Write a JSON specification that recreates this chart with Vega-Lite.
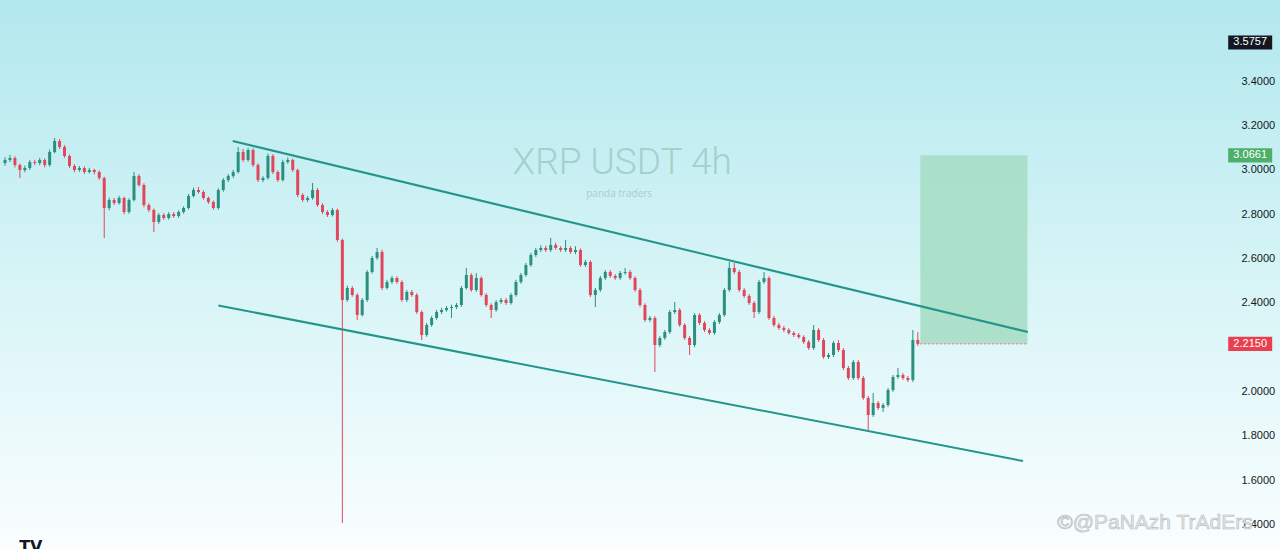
{
"$schema": "https://vega.github.io/schema/vega-lite/v6.json",
"width": 1280, "height": 549,
"autosize": {"type": "none"},
"padding": 0,
"config": {
 "view": {"stroke": null, "fill": {"gradient": "linear", "x1": 0, "y1": 0, "x2": 0, "y2": 1, "stops": [{"offset": 0, "color": "#b2e8ee"}, {"offset": 0.5, "color": "#d6f4f6"}, {"offset": 1, "color": "#fafeff"}]}},
 "axis": {"labelFont": "Liberation Sans", "labelFontSize": 11, "labelColor": "#131722"}
},
"datasets": {
 "candles": [
{"t":0,"o":3.0316,"h":3.058,"l":3.020,"c":3.0451},
{"t":1,"o":3.0451,"h":3.068,"l":3.036,"c":3.0542},
{"t":2,"o":3.0542,"h":3.062,"l":3.012,"c":3.0226},
{"t":3,"o":3.0226,"h":3.030,"l":2.964,"c":3.0000},
{"t":4,"o":3.0000,"h":3.020,"l":2.990,"c":3.0090},
{"t":5,"o":3.0090,"h":3.045,"l":3.000,"c":3.0361},
{"t":6,"o":3.0361,"h":3.046,"l":3.022,"c":3.0316},
{"t":7,"o":3.0316,"h":3.055,"l":3.022,"c":3.0451},
{"t":8,"o":3.0451,"h":3.052,"l":3.012,"c":3.0226},
{"t":9,"o":3.0226,"h":3.092,"l":3.015,"c":3.0813},
{"t":10,"o":3.0813,"h":3.1445,"l":3.075,"c":3.1309},
{"t":11,"o":3.1309,"h":3.140,"l":3.095,"c":3.1038},
{"t":12,"o":3.1038,"h":3.112,"l":3.055,"c":3.0632},
{"t":13,"o":3.0632,"h":3.070,"l":3.008,"c":3.0181},
{"t":14,"o":3.0181,"h":3.026,"l":2.990,"c":3.0000},
{"t":15,"o":3.0000,"h":3.018,"l":2.992,"c":3.0090},
{"t":16,"o":3.0090,"h":3.016,"l":2.982,"c":2.9910},
{"t":17,"o":2.9910,"h":3.010,"l":2.984,"c":3.0000},
{"t":18,"o":3.0000,"h":3.006,"l":2.980,"c":2.9910},
{"t":19,"o":2.9910,"h":2.998,"l":2.955,"c":2.9639},
{"t":20,"o":2.9639,"h":2.970,"l":2.693,"c":2.8284},
{"t":21,"o":2.8284,"h":2.875,"l":2.818,"c":2.8646},
{"t":22,"o":2.8646,"h":2.874,"l":2.842,"c":2.8510},
{"t":23,"o":2.8510,"h":2.884,"l":2.843,"c":2.8736},
{"t":24,"o":2.8736,"h":2.880,"l":2.800,"c":2.8104},
{"t":25,"o":2.8104,"h":2.872,"l":2.803,"c":2.8646},
{"t":26,"o":2.8646,"h":2.991,"l":2.858,"c":2.9729},
{"t":27,"o":2.9729,"h":2.982,"l":2.925,"c":2.9323},
{"t":28,"o":2.9323,"h":2.940,"l":2.832,"c":2.8420},
{"t":29,"o":2.8420,"h":2.850,"l":2.810,"c":2.8194},
{"t":30,"o":2.8194,"h":2.826,"l":2.720,"c":2.7652},
{"t":31,"o":2.7652,"h":2.806,"l":2.757,"c":2.7968},
{"t":32,"o":2.7968,"h":2.805,"l":2.775,"c":2.7833},
{"t":33,"o":2.7833,"h":2.810,"l":2.776,"c":2.8014},
{"t":34,"o":2.8014,"h":2.810,"l":2.784,"c":2.7923},
{"t":35,"o":2.7923,"h":2.818,"l":2.784,"c":2.8104},
{"t":36,"o":2.8104,"h":2.836,"l":2.803,"c":2.8284},
{"t":37,"o":2.8284,"h":2.892,"l":2.821,"c":2.8826},
{"t":38,"o":2.8826,"h":2.920,"l":2.876,"c":2.9097},
{"t":39,"o":2.9097,"h":2.9233,"l":2.893,"c":2.9007},
{"t":40,"o":2.9007,"h":2.908,"l":2.866,"c":2.8736},
{"t":41,"o":2.8736,"h":2.880,"l":2.847,"c":2.8555},
{"t":42,"o":2.8555,"h":2.862,"l":2.820,"c":2.8284},
{"t":43,"o":2.8284,"h":2.918,"l":2.821,"c":2.9097},
{"t":44,"o":2.9097,"h":2.964,"l":2.902,"c":2.9549},
{"t":45,"o":2.9549,"h":2.982,"l":2.946,"c":2.9729},
{"t":46,"o":2.9729,"h":3.000,"l":2.964,"c":2.9910},
{"t":47,"o":2.9910,"h":3.1038,"l":2.984,"c":3.0813},
{"t":48,"o":3.0813,"h":3.095,"l":3.037,"c":3.0451},
{"t":49,"o":3.0451,"h":3.100,"l":3.038,"c":3.0903},
{"t":50,"o":3.0903,"h":3.098,"l":3.014,"c":3.0226},
{"t":51,"o":3.0226,"h":3.030,"l":2.946,"c":2.9549},
{"t":52,"o":2.9549,"h":2.972,"l":2.945,"c":2.9639},
{"t":53,"o":2.9639,"h":3.074,"l":2.956,"c":3.0632},
{"t":54,"o":3.0632,"h":3.072,"l":2.982,"c":2.9910},
{"t":55,"o":2.9910,"h":2.998,"l":2.946,"c":2.9549},
{"t":56,"o":2.9549,"h":3.046,"l":2.948,"c":3.0361},
{"t":57,"o":3.0361,"h":3.056,"l":3.028,"c":3.0451},
{"t":58,"o":3.0451,"h":3.052,"l":2.992,"c":3.0000},
{"t":59,"o":3.0000,"h":3.006,"l":2.878,"c":2.8871},
{"t":60,"o":2.8871,"h":2.895,"l":2.856,"c":2.8646},
{"t":61,"o":2.8646,"h":2.882,"l":2.856,"c":2.8736},
{"t":62,"o":2.8736,"h":2.9413,"l":2.866,"c":2.9097},
{"t":63,"o":2.9097,"h":2.918,"l":2.834,"c":2.8420},
{"t":64,"o":2.8420,"h":2.850,"l":2.802,"c":2.8104},
{"t":65,"o":2.8104,"h":2.818,"l":2.788,"c":2.7968},
{"t":66,"o":2.7968,"h":2.828,"l":2.790,"c":2.8194},
{"t":67,"o":2.8194,"h":2.826,"l":2.676,"c":2.6840},
{"t":68,"o":2.6840,"h":2.690,"l":1.4063,"c":2.4131},
{"t":69,"o":2.4131,"h":2.478,"l":2.405,"c":2.4673},
{"t":70,"o":2.4673,"h":2.476,"l":2.428,"c":2.4357},
{"t":71,"o":2.4357,"h":2.444,"l":2.3228,"c":2.3454},
{"t":72,"o":2.3454,"h":2.422,"l":2.338,"c":2.4131},
{"t":73,"o":2.4131,"h":2.548,"l":2.405,"c":2.5395},
{"t":74,"o":2.5395,"h":2.612,"l":2.532,"c":2.6027},
{"t":75,"o":2.6027,"h":2.6479,"l":2.595,"c":2.6298},
{"t":76,"o":2.6298,"h":2.640,"l":2.458,"c":2.4673},
{"t":77,"o":2.4673,"h":2.504,"l":2.460,"c":2.4944},
{"t":78,"o":2.4944,"h":2.522,"l":2.486,"c":2.5124},
{"t":79,"o":2.5124,"h":2.520,"l":2.486,"c":2.4944},
{"t":80,"o":2.4944,"h":2.502,"l":2.405,"c":2.4131},
{"t":81,"o":2.4131,"h":2.458,"l":2.404,"c":2.4492},
{"t":82,"o":2.4492,"h":2.458,"l":2.428,"c":2.4357},
{"t":83,"o":2.4357,"h":2.444,"l":2.350,"c":2.3589},
{"t":84,"o":2.3589,"h":2.366,"l":2.2325,"c":2.2551},
{"t":85,"o":2.2551,"h":2.310,"l":2.247,"c":2.3002},
{"t":86,"o":2.3002,"h":2.341,"l":2.292,"c":2.3318},
{"t":87,"o":2.3318,"h":2.368,"l":2.324,"c":2.3589},
{"t":88,"o":2.3589,"h":2.378,"l":2.350,"c":2.3679},
{"t":89,"o":2.3679,"h":2.386,"l":2.360,"c":2.3770},
{"t":90,"o":2.3770,"h":2.392,"l":2.3318,"c":2.3815},
{"t":91,"o":2.3815,"h":2.400,"l":2.372,"c":2.3905},
{"t":92,"o":2.3905,"h":2.476,"l":2.382,"c":2.4673},
{"t":93,"o":2.4673,"h":2.5576,"l":2.460,"c":2.5260},
{"t":94,"o":2.5260,"h":2.534,"l":2.450,"c":2.4582},
{"t":95,"o":2.4582,"h":2.5350,"l":2.450,"c":2.5124},
{"t":96,"o":2.5124,"h":2.520,"l":2.428,"c":2.4357},
{"t":97,"o":2.4357,"h":2.444,"l":2.382,"c":2.3905},
{"t":98,"o":2.3905,"h":2.398,"l":2.3318,"c":2.3679},
{"t":99,"o":2.3679,"h":2.412,"l":2.360,"c":2.4041},
{"t":100,"o":2.4041,"h":2.422,"l":2.396,"c":2.4131},
{"t":101,"o":2.4131,"h":2.422,"l":2.391,"c":2.3995},
{"t":102,"o":2.3995,"h":2.444,"l":2.392,"c":2.4357},
{"t":103,"o":2.4357,"h":2.504,"l":2.428,"c":2.4944},
{"t":104,"o":2.4944,"h":2.535,"l":2.486,"c":2.5260},
{"t":105,"o":2.5260,"h":2.580,"l":2.518,"c":2.5711},
{"t":106,"o":2.5711,"h":2.626,"l":2.563,"c":2.6163},
{"t":107,"o":2.6163,"h":2.648,"l":2.608,"c":2.6388},
{"t":108,"o":2.6388,"h":2.660,"l":2.630,"c":2.6479},
{"t":109,"o":2.6479,"h":2.658,"l":2.630,"c":2.6388},
{"t":110,"o":2.6388,"h":2.6930,"l":2.630,"c":2.6614},
{"t":111,"o":2.6614,"h":2.672,"l":2.640,"c":2.6479},
{"t":112,"o":2.6479,"h":2.656,"l":2.630,"c":2.6388},
{"t":113,"o":2.6388,"h":2.6840,"l":2.630,"c":2.6479},
{"t":114,"o":2.6479,"h":2.656,"l":2.622,"c":2.6298},
{"t":115,"o":2.6298,"h":2.656,"l":2.620,"c":2.6388},
{"t":116,"o":2.6388,"h":2.646,"l":2.563,"c":2.5711},
{"t":117,"o":2.5711,"h":2.594,"l":2.563,"c":2.5847},
{"t":118,"o":2.5847,"h":2.592,"l":2.427,"c":2.4357},
{"t":119,"o":2.4357,"h":2.467,"l":2.3815,"c":2.4582},
{"t":120,"o":2.4582,"h":2.522,"l":2.450,"c":2.5124},
{"t":121,"o":2.5124,"h":2.548,"l":2.504,"c":2.5395},
{"t":122,"o":2.5395,"h":2.548,"l":2.513,"c":2.5214},
{"t":123,"o":2.5214,"h":2.530,"l":2.504,"c":2.5124},
{"t":124,"o":2.5124,"h":2.544,"l":2.504,"c":2.5350},
{"t":125,"o":2.5350,"h":2.5576,"l":2.527,"c":2.5395},
{"t":126,"o":2.5395,"h":2.548,"l":2.504,"c":2.5124},
{"t":127,"o":2.5124,"h":2.520,"l":2.450,"c":2.4582},
{"t":128,"o":2.4582,"h":2.467,"l":2.382,"c":2.3905},
{"t":129,"o":2.3905,"h":2.398,"l":2.314,"c":2.3228},
{"t":130,"o":2.3228,"h":2.341,"l":2.314,"c":2.3318},
{"t":131,"o":2.3318,"h":2.340,"l":2.0880,"c":2.2099},
{"t":132,"o":2.2099,"h":2.250,"l":2.200,"c":2.2415},
{"t":133,"o":2.2415,"h":2.278,"l":2.233,"c":2.2686},
{"t":134,"o":2.2686,"h":2.368,"l":2.260,"c":2.3589},
{"t":135,"o":2.3589,"h":2.4041,"l":2.350,"c":2.3679},
{"t":136,"o":2.3679,"h":2.376,"l":2.292,"c":2.3002},
{"t":137,"o":2.3002,"h":2.308,"l":2.233,"c":2.2415},
{"t":138,"o":2.2415,"h":2.250,"l":2.1648,"c":2.2099},
{"t":139,"o":2.2099,"h":2.354,"l":2.200,"c":2.3454},
{"t":140,"o":2.3454,"h":2.354,"l":2.300,"c":2.3093},
{"t":141,"o":2.3093,"h":2.318,"l":2.268,"c":2.2777},
{"t":142,"o":2.2777,"h":2.286,"l":2.256,"c":2.2641},
{"t":143,"o":2.2641,"h":2.322,"l":2.256,"c":2.3138},
{"t":144,"o":2.3138,"h":2.354,"l":2.305,"c":2.3454},
{"t":145,"o":2.3454,"h":2.467,"l":2.337,"c":2.4582},
{"t":146,"o":2.4582,"h":2.5847,"l":2.450,"c":2.5576},
{"t":147,"o":2.5576,"h":2.580,"l":2.530,"c":2.5395},
{"t":148,"o":2.5395,"h":2.548,"l":2.450,"c":2.4582},
{"t":149,"o":2.4582,"h":2.467,"l":2.423,"c":2.4311},
{"t":150,"o":2.4311,"h":2.440,"l":2.391,"c":2.3995},
{"t":151,"o":2.3995,"h":2.408,"l":2.3318,"c":2.3589},
{"t":152,"o":2.3589,"h":2.504,"l":2.350,"c":2.4944},
{"t":153,"o":2.4944,"h":2.5395,"l":2.486,"c":2.5124},
{"t":154,"o":2.5124,"h":2.520,"l":2.323,"c":2.3318},
{"t":155,"o":2.3318,"h":2.341,"l":2.292,"c":2.3002},
{"t":156,"o":2.3002,"h":2.310,"l":2.278,"c":2.2867},
{"t":157,"o":2.2867,"h":2.296,"l":2.268,"c":2.2777},
{"t":158,"o":2.2777,"h":2.286,"l":2.256,"c":2.2641},
{"t":159,"o":2.2641,"h":2.272,"l":2.246,"c":2.2551},
{"t":160,"o":2.2551,"h":2.264,"l":2.238,"c":2.2461},
{"t":161,"o":2.2461,"h":2.254,"l":2.215,"c":2.2235},
{"t":162,"o":2.2235,"h":2.232,"l":2.188,"c":2.1964},
{"t":163,"o":2.1964,"h":2.3002,"l":2.188,"c":2.2777},
{"t":164,"o":2.2777,"h":2.286,"l":2.224,"c":2.2325},
{"t":165,"o":2.2325,"h":2.241,"l":2.147,"c":2.1558},
{"t":166,"o":2.1558,"h":2.174,"l":2.147,"c":2.1648},
{"t":167,"o":2.1648,"h":2.228,"l":2.156,"c":2.2190},
{"t":168,"o":2.2190,"h":2.2325,"l":2.178,"c":2.1874},
{"t":169,"o":2.1874,"h":2.196,"l":2.097,"c":2.1061},
{"t":170,"o":2.1061,"h":2.115,"l":2.052,"c":2.0609},
{"t":171,"o":2.0609,"h":2.142,"l":2.052,"c":2.1332},
{"t":172,"o":2.1332,"h":2.142,"l":2.052,"c":2.0609},
{"t":173,"o":2.0609,"h":2.070,"l":1.962,"c":1.9707},
{"t":174,"o":1.9707,"h":1.980,"l":1.8262,"c":1.8939},
{"t":175,"o":1.8939,"h":1.9932,"l":1.885,"c":1.9481},
{"t":176,"o":1.9481,"h":1.957,"l":1.917,"c":1.9255},
{"t":177,"o":1.9255,"h":1.948,"l":1.9074,"c":1.9391},
{"t":178,"o":1.9391,"h":2.016,"l":1.930,"c":2.0068},
{"t":179,"o":2.0068,"h":2.075,"l":1.998,"c":2.0655},
{"t":180,"o":2.0655,"h":2.1061,"l":2.057,"c":2.0745},
{"t":181,"o":2.0745,"h":2.083,"l":2.052,"c":2.0609},
{"t":182,"o":2.0609,"h":2.070,"l":2.043,"c":2.0519},
{"t":183,"o":2.0519,"h":2.2777,"l":2.043,"c":2.2325},
{"t":184,"o":2.2325,"h":2.268,"l":2.206,"c":2.2150}
 ],
 "zone": [{"t1": 184.5, "t2": 206.1, "entry": 2.215, "target": 3.0661}],
 "channel": [
  {"line": "upper", "t": 45.9, "p": 3.1309},
  {"line": "upper", "t": 206.2, "p": 2.2686},
  {"line": "lower", "t": 43, "p": 2.3883},
  {"line": "lower", "t": 205.2, "p": 1.6862}
 ],
 "tags": [
  {"p": 3.5757, "label": "3.5757", "kind": "last"},
  {"p": 3.0661, "label": "3.0661", "kind": "target"},
  {"p": 2.2150, "label": "2.2150", "kind": "entry"}
 ]
},
"layer": [
 {
  "data": {"name": "zone"},
  "mark": {"type": "rect", "color": "#a9dec8", "opacity": 0.95},
  "encoding": {
   "x": {"field": "t1", "type": "quantitative", "scale": {"domain": [0, 256], "nice": false, "zero": false}, "axis": null},
   "x2": {"field": "t2"},
   "y": {"field": "entry", "type": "quantitative", "scale": {"domain": [1.2889, 3.7675], "nice": false, "zero": false},
     "axis": {"orient": "right", "offset": -39, "ticks": false, "domain": false, "grid": false, "title": null, "labelPadding": 0, "labelAlign": "left", "format": ".4f", "values": [1.4, 1.6, 1.8, 2.0, 2.4, 2.6, 2.8, 3.0, 3.2, 3.4]}},
   "y2": {"field": "target"}
  }
 },
 {
  "data": {"name": "zone"},
  "mark": {"type": "rule", "color": "#e0707a", "strokeDash": [2, 2], "strokeWidth": 1},
  "encoding": {
   "x": {"field": "t1", "type": "quantitative"},
   "x2": {"field": "t2"},
   "y": {"field": "entry", "type": "quantitative"}
  }
 },
 {
  "data": {"name": "candles"},
  "mark": {"type": "rule", "strokeWidth": 1},
  "encoding": {
   "x": {"field": "t", "type": "quantitative"},
   "y": {"field": "l", "type": "quantitative"},
   "y2": {"field": "h"},
   "color": {"condition": {"test": "datum.c >= datum.o", "value": "#2b8f7f"}, "value": "#e0475b"}
  }
 },
 {
  "data": {"name": "candles"},
  "mark": {"type": "bar", "width": 3},
  "encoding": {
   "x": {"field": "t", "type": "quantitative"},
   "y": {"field": "o", "type": "quantitative"},
   "y2": {"field": "c"},
   "color": {"condition": {"test": "datum.c >= datum.o", "value": "#2b8f7f"}, "value": "#e0475b"}
  }
 },
 {
  "data": {"name": "channel"},
  "mark": {"type": "line", "color": "#23958a", "strokeWidth": 2},
  "encoding": {
   "x": {"field": "t", "type": "quantitative"},
   "y": {"field": "p", "type": "quantitative"},
   "detail": {"field": "line"}
  }
 },
 {
  "data": {"name": "tags"},
  "mark": {"type": "point", "filled": true, "opacity": 1, "size": 1936, "shape": "M-1,-0.32L1,-0.32L1,0.32L-1,0.32Z"},
  "encoding": {
   "x": {"datum": 251, "type": "quantitative"},
   "y": {"field": "p", "type": "quantitative"},
   "color": {"field": "kind", "type": "nominal", "legend": null, "scale": {"domain": ["last", "target", "entry"], "range": ["#131722", "#4caf6a", "#e8404f"]}}
  }
 },
 {
  "data": {"name": "tags"},
  "mark": {"type": "text", "color": "#ffffff", "font": "Liberation Sans", "fontSize": 11, "align": "center", "baseline": "middle"},
  "encoding": {
   "x": {"datum": 251, "type": "quantitative"},
   "y": {"field": "p", "type": "quantitative"},
   "text": {"field": "label"}
  }
 },
 {
  "data": {"values": [{}]},
  "mark": {"type": "text", "text": "XRP USDT 4h", "font": "Roboto", "fontWeight": 300, "fontSize": 37, "color": "#a3d1cc", "align": "center", "baseline": "middle"},
  "encoding": {
   "x": {"datum": 124.4, "type": "quantitative"},
   "y": {"datum": 3.0316, "type": "quantitative"}
  }
 },
 {
  "data": {"values": [{}]},
  "mark": {"type": "text", "text": "panda traders", "font": "Open Sans", "fontSize": 10, "color": "#a6cfcb", "align": "center", "baseline": "middle"},
  "encoding": {
   "x": {"datum": 123.8, "type": "quantitative"},
   "y": {"datum": 2.8917, "type": "quantitative"}
  }
 },
 {
  "data": {"values": [{}]},
  "mark": {"type": "text", "text": "©@PaNAzh TrAdErs", "font": "Liberation Sans", "fontSize": 21, "color": "#e3e7e8", "stroke": "#b8bcbd", "strokeWidth": 0.6, "align": "right", "baseline": "middle"},
  "encoding": {
   "x": {"datum": 251.5, "type": "quantitative"},
   "y": {"datum": 1.4063, "type": "quantitative"}
  }
 },
 {
  "data": {"values": [{}]},
  "mark": {"type": "text", "text": "TV", "font": "DejaVu Sans", "fontWeight": "bold", "fontSize": 16, "color": "#131722", "align": "center", "baseline": "middle"},
  "encoding": {
   "x": {"datum": 5.2, "type": "quantitative"},
   "y": {"datum": 1.298, "type": "quantitative"}
  }
 }
]
}
